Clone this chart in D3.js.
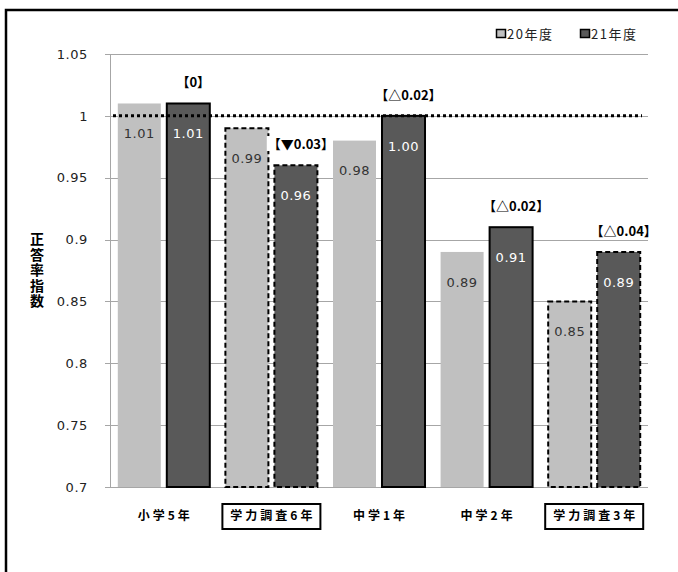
<!DOCTYPE html>
<html>
<head>
<meta charset="utf-8">
<script src="https://cdn.jsdelivr.net/npm/d3@7"></script>
<style>
  html, body { margin: 0; padding: 0; background: #fff; }
  svg { display: block; }
</style>
</head>
<body>
<svg id="chart" width="678" height="572"></svg>
<script>
// ---- data ----
const categories = ["小学5年", "学力調査6年", "中学1年", "中学2年", "学力調査3年"];
const seriesNames = ["20年度", "21年度"];
const values2008 = [1.01, 0.99, 0.98, 0.89, 0.85];
const values2009 = [1.01, 0.96, 1.00, 0.91, 0.89];
const changeLabels = ["【0】", "【▼0.03】", "【△0.02】", "【△0.02】", "【△0.04】"];
const yTicks = [0.7, 0.75, 0.8, 0.85, 0.9, 0.95, 1, 1.05];
const yTitle = "正答率指数";
const referenceValue = 1;

// ---- layout ----
const svg = d3.select("#chart");
const plot = { left: 110, right: 648, top: 54, bottom: 487 };
const colors = ["#c0c0c0", "#595959"];
const labelColors = ["#333333", "#ffffff"];
const numFont = "'DejaVu Sans', sans-serif";
const cjkFont = "'Noto Sans CJK JP', sans-serif";

const y = d3.scaleLinear().domain([0.7, 1.05]).range([plot.bottom, plot.top]);
const x0 = d3.scaleBand().domain(categories).range([plot.left, plot.right]).padding(0);
const x1 = d3.scaleBand().domain(seriesNames).range([0, x0.bandwidth()])
  .paddingInner(0.1224).paddingOuter(0.159);

// outer frame
svg.append("rect").attr("x", 6).attr("y", 10).attr("width", 700).attr("height", 620)
  .attr("fill", "none").attr("stroke", "#000").attr("stroke-width", 2.5);

// gridlines
svg.append("g").selectAll("line").data(yTicks).join("line")
  .attr("x1", plot.left - 5).attr("x2", plot.right)
  .attr("y1", d => Math.round(y(d)) + 0.5).attr("y2", d => Math.round(y(d)) + 0.5)
  .attr("stroke", "#a6a6a6").attr("stroke-width", 1);
// y axis line
svg.append("line").attr("x1", plot.left + 0.5).attr("x2", plot.left + 0.5)
  .attr("y1", plot.top).attr("y2", plot.bottom)
  .attr("stroke", "#a6a6a6");

// y tick labels
const yAxis = d3.axisLeft(y).tickValues(yTicks).tickSize(0).tickPadding(0)
  .tickFormat(d => String(d));
const yg = svg.append("g").attr("transform", `translate(${plot.left - 22},0)`).call(yAxis);
yg.select(".domain").remove();
yg.selectAll("text").attr("font-family", numFont).attr("font-size", 13)
  .attr("letter-spacing", 0.6).attr("fill", "#222");

// y title (vertical text)
svg.append("text")
  .attr("x", 37)
  .attr("y", (plot.top + plot.bottom) / 2)
  .attr("text-anchor", "middle")
  .style("writing-mode", "vertical-rl")
  .attr("font-family", cjkFont).attr("font-weight", "bold").attr("font-size", 14)
  .attr("letter-spacing", 1.5)
  .attr("fill", "#000")
  .text(yTitle);

// bars
const rows = categories.map((c, i) => ({
  cat: c, survey: c.includes("学力調査"),
  vals: [values2008[i], values2009[i]], change: changeLabels[i]
}));

const groups = svg.append("g").selectAll("g").data(rows).join("g")
  .attr("transform", d => `translate(${x0(d.cat)},0)`);

groups.each(function(row) {
  const g = d3.select(this);
  row.vals.forEach((v, si) => {
    const bx = x1(seriesNames[si]);
    const r = g.append("rect")
      .attr("x", bx).attr("y", y(v))
      .attr("width", x1.bandwidth()).attr("height", y(0.7) - y(v))
      .attr("fill", colors[si]);
    if (row.survey) {
      r.attr("stroke", "#000").attr("stroke-width", 2).attr("stroke-dasharray", "5,3");
    } else if (si === 1) {
      r.attr("stroke", "#000").attr("stroke-width", 2);
    }
    g.append("text")
      .attr("x", bx + x1.bandwidth() / 2).attr("y", y(v) + 30)
      .attr("dy", "0.36em")
      .attr("text-anchor", "middle")
      .attr("font-family", numFont).attr("font-size", 13).attr("letter-spacing", 0.5)
      .attr("fill", labelColors[si])
      .text(v.toFixed(2));
  });
});

// reference dotted line at 1
svg.append("line")
  .attr("x1", plot.left + 3).attr("x2", plot.right - 6)
  .attr("y1", y(referenceValue)).attr("y2", y(referenceValue))
  .attr("stroke", "#000").attr("stroke-width", 3).attr("stroke-dasharray", "3,3");

// change annotations
groups.each(function(row) {
  const g = d3.select(this);
  const cx = x1(seriesNames[1]) + x1.bandwidth() / 2 + 5;
  const cy = y(row.vals[1]) - 21;
  const t = g.append("text")
    .attr("x", cx).attr("y", cy).attr("dy", "0.36em")
    .attr("text-anchor", "middle")
    .attr("font-family", cjkFont)
    .attr("font-weight", "bold").attr("font-size", 13)
    .attr("fill", "#000")
    .text(row.change);
  const bb = t.node().getBBox();
  g.insert("rect", () => t.node())
    .attr("x", bb.x - 1).attr("y", bb.y + 2).attr("width", bb.width + 2).attr("height", bb.height - 4)
    .attr("fill", "#fff");
});

// category labels
const catG = svg.append("g").selectAll("g").data(rows).join("g")
  .attr("transform", d => `translate(${x0(d.cat) + x0.bandwidth() / 2},516)`);
catG.filter(d => d.survey).append("rect")
  .attr("x", -49).attr("y", -12).attr("width", 98).attr("height", 25)
  .attr("fill", "#fff").attr("stroke", "#000").attr("stroke-width", 2);
catG.append("text")
  .attr("x", 1.5).attr("dy", "0.36em")
  .attr("text-anchor", "middle")
  .attr("font-family", cjkFont).attr("font-weight", "bold").attr("font-size", 12)
  .attr("letter-spacing", 3)
  .attr("fill", "#000")
  .text(d => d.cat);

// legend
const legendX = [496, 580];
const lg = svg.append("g").selectAll("g").data(seriesNames).join("g")
  .attr("transform", (d, i) => `translate(${legendX[i]},29)`);
lg.append("rect").attr("x", 0.5).attr("y", 0.5).attr("width", 9).attr("height", 8)
  .attr("fill", (d, i) => colors[i]).attr("stroke", "#000").attr("stroke-width", 1.5);
lg.append("text").attr("x", 11).attr("y", 5).attr("dy", "0.36em")
  .attr("font-family", cjkFont).attr("font-size", 13).attr("letter-spacing", 1.5)
  .attr("fill", "#222")
  .text(d => d);
</script>
</body>
</html>
